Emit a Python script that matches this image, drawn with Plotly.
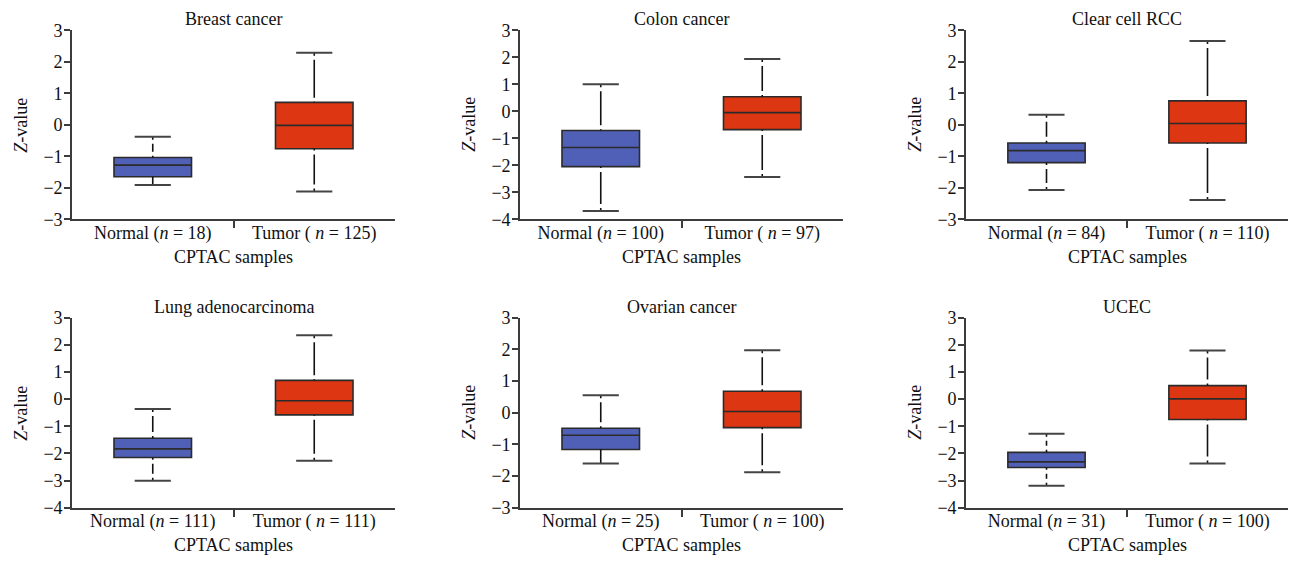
import plotly.graph_objects as go

# Panel titles and sample sizes (Normal, Tumor)
titles = ["Breast cancer", "Colon cancer", "Clear cell RCC",
          "Lung adenocarcinoma", "Ovarian cancer", "UCEC"]
n_normal = [18, 100, 84, 111, 25, 31]
n_tumor = [125, 97, 110, 111, 100, 100]
y_ranges = [(-3, 3), (-4, 3), (-3, 3), (-4, 3), (-3, 3), (-4, 3)]

# Box statistics: [lower whisker, Q1, median, Q3, upper whisker]
normal_stats = [
    [-1.91, -1.65, -1.28, -1.04, -0.38],
    [-3.69, -2.05, -1.34, -0.71, 1.00],
    [-2.07, -1.20, -0.82, -0.58, 0.32],
    [-3.01, -2.15, -1.83, -1.44, -0.36],
    [-1.60, -1.16, -0.71, -0.49, 0.55],
    [-3.19, -2.52, -2.31, -1.96, -1.27],
]
tumor_stats = [
    [-2.12, -0.76, -0.02, 0.71, 2.29],
    [-2.43, -0.68, -0.05, 0.54, 1.94],
    [-2.39, -0.58, 0.04, 0.76, 2.66],
    [-2.27, -0.58, -0.06, 0.69, 2.35],
    [-1.88, -0.47, 0.04, 0.68, 1.97],
    [-2.37, -0.75, 0.01, 0.50, 1.79],
]

FIG_W, FIG_H = 1297, 565
FONT = "Liberation Serif"
FS = 18
BLUE = "#5060B6"
RED = "#DC3612"
INK = "#2b2b2b"
AXIS = "#3c3c3c"
TEXT = "#111"

x_domains = [(72 / FIG_W, 395 / FIG_W), (520 / FIG_W, 843 / FIG_W), (966 / FIG_W, 1288 / FIG_W)]
y_domains = [(1 - 217 / FIG_H, 1 - 21 / FIG_H), (1 - 516 / FIG_H, 1 - 319 / FIG_H)]

BOX_W = 0.48
CAP_HALF = 0.112

fig = go.Figure()
layout = dict(
    width=FIG_W, height=FIG_H,
    margin=dict(l=0, r=0, t=0, b=0),
    paper_bgcolor="white", plot_bgcolor="white",
    showlegend=False,
    font=dict(family=FONT, size=FS, color=TEXT),
)
annotations = []


def whisker_dash(length_px):
    """Short ends and a long middle stroke, as on the printed whiskers."""
    end, gap = 3, 4
    mid = int(round(length_px - 2 * end - 2 * gap))
    if mid < 4:
        return "solid"
    return f"{end}px,{gap}px,{mid}px,{gap}px,{end}px,200px"


for i, title in enumerate(titles):
    row, col = divmod(i, 3)
    xd, yd = x_domains[col], y_domains[row]
    suffix = "" if i == 0 else str(i + 1)
    xa, ya = "x" + suffix, "y" + suffix
    ymin, ymax = y_ranges[i]
    px_per_unit = (yd[1] - yd[0]) * FIG_H / (ymax - ymin)

    for pos, stats, color in ((0, normal_stats[i], BLUE), (1, tumor_stats[i], RED)):
        lo, q1, med, q3, hi = stats
        fig.add_trace(go.Box(
            x=[pos], q1=[q1], median=[med], q3=[q3],
            lowerfence=[q1], upperfence=[q3],
            width=BOX_W, whiskerwidth=0,
            fillcolor=color, line=dict(color=INK, width=1.6),
            boxpoints=False, xaxis=xa, yaxis=ya, hoverinfo="skip",
        ))
        for a, b in ((q3, hi), (q1, lo)):
            fig.add_trace(go.Scatter(
                x=[pos, pos], y=[b, a], mode="lines",
                line=dict(color="#111", width=1.6,
                          dash=whisker_dash(abs(b - a) * px_per_unit)),
                xaxis=xa, yaxis=ya, hoverinfo="skip",
            ))
            fig.add_trace(go.Scatter(
                x=[pos - CAP_HALF, pos + CAP_HALF], y=[b, b], mode="lines",
                line=dict(color="#444", width=2),
                xaxis=xa, yaxis=ya, hoverinfo="skip",
            ))

    layout["xaxis" + suffix] = dict(
        domain=list(xd), anchor=ya, range=[-0.5, 1.5],
        tickvals=[0, 1],
        ticktext=[f"Normal (<i>n</i> = {n_normal[i]})", f"Tumor ( <i>n</i> = {n_tumor[i]})"],
        ticks="", ticklabelstandoff=-4,
        minor=dict(tickvals=[0.5], ticks="outside", ticklen=7, tickwidth=1.6, tickcolor=AXIS),
        showline=True, linecolor=AXIS, linewidth=1.6,
        showgrid=False, zeroline=False, fixedrange=True,
        tickfont=dict(family=FONT, size=FS, color=TEXT),
    )
    layout["yaxis" + suffix] = dict(
        domain=list(yd), anchor=xa, range=[ymin, ymax], dtick=1,
        ticks="outside", ticklen=6, tickwidth=1.6, tickcolor=AXIS,
        ticklabelstandoff=-2,
        showline=True, linecolor=AXIS, linewidth=1.6,
        showgrid=False, zeroline=False, fixedrange=True,
        tickfont=dict(family=FONT, size=FS, color=TEXT),
    )

    xc = (xd[0] + xd[1]) / 2
    annotations.append(dict(
        text=title, x=xc, y=yd[1] - 1 / FIG_H, xref="paper", yref="paper",
        xanchor="center", yanchor="bottom", showarrow=False,
        font=dict(family=FONT, size=FS, color=TEXT),
    ))
    annotations.append(dict(
        text="CPTAC samples", x=xc, y=yd[0] - 39 / FIG_H, xref="paper", yref="paper",
        xanchor="center", yanchor="middle", showarrow=False,
        font=dict(family=FONT, size=FS, color=TEXT),
    ))
    annotations.append(dict(
        text="<i>Z</i>-value", x=xd[0] - 51 / FIG_W, y=(yd[0] + yd[1]) / 2,
        xref="paper", yref="paper", xanchor="center", yanchor="middle",
        textangle=-90, showarrow=False,
        font=dict(family=FONT, size=FS, color=TEXT),
    ))

layout["annotations"] = annotations
fig.update_layout(**layout)
fig.write_html("out.html")
